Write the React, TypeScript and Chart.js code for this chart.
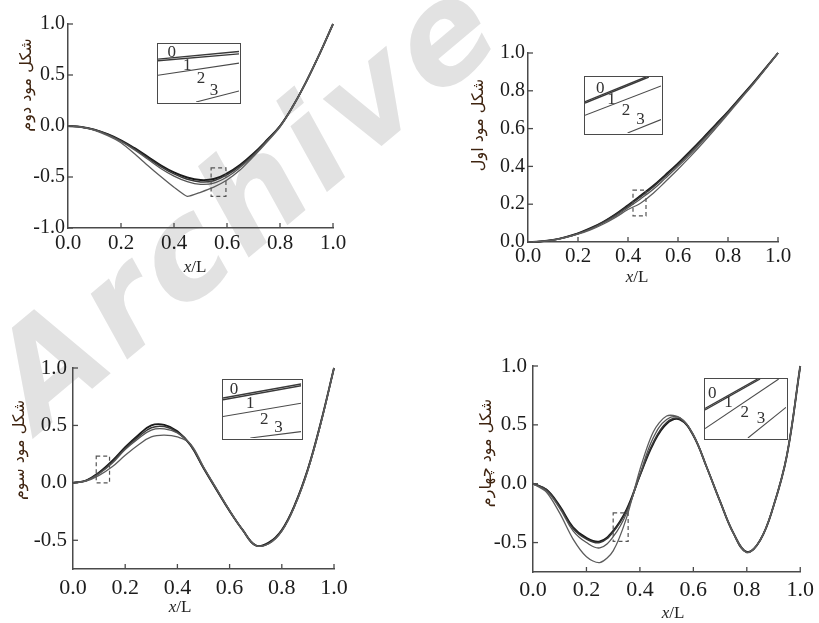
import React, { useEffect, useRef } from "react";
import { Chart, registerables } from "chart.js";

Chart.register(...registerables);

// ---------------- data ----------------
const XS = [0, 0.05, 0.1, 0.15, 0.2, 0.25, 0.3, 0.35, 0.4, 0.45, 0.5, 0.55, 0.6, 0.65, 0.7, 0.75, 0.8, 0.85, 0.9, 0.95, 1];

// first mode (top right)
const mode1c0 = [0, 0.003, 0.011, 0.026, 0.046, 0.073, 0.106, 0.147, 0.195, 0.245, 0.296, 0.355, 0.416, 0.482, 0.55, 0.62, 0.69, 0.765, 0.84, 0.92, 1.0];
const mode1c1 = [0, 0.003, 0.011, 0.025, 0.045, 0.071, 0.104, 0.143, 0.19, 0.239, 0.29, 0.349, 0.41, 0.476, 0.545, 0.615, 0.687, 0.762, 0.838, 0.918, 1.0];
const mode1c2 = [0, 0.003, 0.01, 0.024, 0.043, 0.068, 0.1, 0.137, 0.182, 0.228, 0.278, 0.338, 0.4, 0.466, 0.537, 0.61, 0.683, 0.759, 0.836, 0.917, 1.0];
const mode1c3 = [0, 0.003, 0.01, 0.023, 0.041, 0.064, 0.094, 0.13, 0.172, 0.205, 0.257, 0.32, 0.385, 0.453, 0.525, 0.6, 0.677, 0.755, 0.833, 0.915, 1.0];

// second mode (top left)
const mode2c0 = [0, -0.01, -0.035, -0.08, -0.14, -0.215, -0.3, -0.385, -0.455, -0.505, -0.53, -0.52, -0.465, -0.38, -0.27, -0.14, 0.0, 0.2, 0.44, 0.71, 1.0];
const mode2c1 = [0, -0.01, -0.036, -0.082, -0.145, -0.222, -0.31, -0.397, -0.47, -0.522, -0.548, -0.537, -0.478, -0.39, -0.28, -0.145, 0.0, 0.2, 0.44, 0.71, 1.0];
const mode2c2 = [0, -0.011, -0.038, -0.086, -0.151, -0.232, -0.324, -0.416, -0.491, -0.545, -0.572, -0.56, -0.5, -0.405, -0.29, -0.15, -0.005, 0.2, 0.44, 0.71, 1.0];
const mode2c3 = [0, -0.012, -0.042, -0.095, -0.165, -0.27, -0.385, -0.495, -0.6, -0.69, -0.65, -0.6, -0.53, -0.43, -0.3, -0.16, -0.01, 0.195, 0.44, 0.71, 1.0];

// third mode (bottom left)
const mode3c0 = [0, 0.02, 0.09, 0.19, 0.31, 0.415, 0.5, 0.505, 0.45, 0.33, 0.13, -0.06, -0.245, -0.41, -0.545, -0.52, -0.41, -0.19, 0.12, 0.53, 1.0];
const mode3c1 = [0, 0.02, 0.085, 0.18, 0.3, 0.4, 0.48, 0.49, 0.44, 0.33, 0.13, -0.06, -0.245, -0.41, -0.545, -0.525, -0.415, -0.19, 0.12, 0.53, 1.0];
const mode3c2 = [0, 0.02, 0.08, 0.17, 0.29, 0.385, 0.46, 0.47, 0.435, 0.335, 0.135, -0.055, -0.24, -0.41, -0.545, -0.53, -0.42, -0.2, 0.11, 0.52, 1.0];
const mode3c3 = [0, 0.015, 0.065, 0.14, 0.24, 0.33, 0.4, 0.415, 0.4, 0.34, 0.14, -0.05, -0.24, -0.41, -0.545, -0.53, -0.42, -0.2, 0.11, 0.52, 1.0];

// fourth mode (bottom right)
const mode4c0 = [0, -0.05, -0.19, -0.37, -0.46, -0.49, -0.4, -0.22, 0.07, 0.34, 0.51, 0.545, 0.41, 0.14, -0.15, -0.42, -0.58, -0.48, -0.19, 0.24, 1.0];
const mode4c1 = [0, -0.05, -0.2, -0.38, -0.47, -0.5, -0.41, -0.23, 0.07, 0.35, 0.52, 0.55, 0.41, 0.14, -0.15, -0.42, -0.58, -0.48, -0.19, 0.24, 1.0];
const mode4c2 = [0, -0.06, -0.21, -0.4, -0.5, -0.545, -0.45, -0.25, 0.08, 0.39, 0.545, 0.56, 0.41, 0.14, -0.15, -0.42, -0.585, -0.48, -0.19, 0.24, 1.0];
const mode4c3 = [0, -0.07, -0.25, -0.47, -0.62, -0.67, -0.57, -0.29, 0.12, 0.44, 0.575, 0.56, 0.42, 0.14, -0.15, -0.42, -0.585, -0.48, -0.19, 0.24, 1.0];

// tick values
const X_TICKS = [0, 0.2, 0.4, 0.6, 0.8, 1.0];
const Y_TICKS_M1 = [0, 0.2, 0.4, 0.6, 0.8, 1.0];
const Y_TICKS_M2 = [-1.0, -0.5, 0, 0.5, 1.0];
const Y_TICKS_M3 = [-0.5, 0, 0.5, 1.0];
const Y_TICKS_M4 = [-0.5, 0, 0.5, 1.0];

// zoom windows (dashed boxes) in data units: [x1, x2, y1, y2]
const ZOOM_M1 = [0.42, 0.472, 0.138, 0.275];
const ZOOM_M2 = [0.54, 0.596, -0.69, -0.41];
const ZOOM_M3 = [0.089, 0.14, 0.0, 0.233];
const ZOOM_M4 = [0.3, 0.356, -0.489, -0.248];

// inset segments (normalised inset units) for curves 0..3
const INSET_M1 = [[[0, 0.56], [0.8, 1.0]], [[0, 0.535], [0.84, 1.0]], [[0, 0.315], [1, 0.84]], [[0.56, 0], [1, 0.24]]];
const INSET_M2 = [[[0, 0.74], [1, 0.87]], [[0, 0.71], [1, 0.83]], [[0, 0.46], [1, 0.67]], [[0.47, 0], [1, 0.19]]];
const INSET_M3 = [[[0, 0.69], [1, 0.93]], [[0, 0.66], [1, 0.9]], [[0, 0.37], [1, 0.6]], [[0.35, 0], [1, 0.11]]];
const INSET_M4 = [[[0, 0.5], [0.65, 1.0]], [[0, 0.475], [0.68, 1.0]], [[0, 0.16], [0.91, 1.0]], [[0.53, 0], [1, 0.52]]];
const INSET_LABELS = ["0", "1", "2", "3"];
const INSET_LABEL_POS_M1 = [[0.2, 0.8], [0.35, 0.6], [0.54, 0.4], [0.73, 0.24]];
const INSET_LABEL_POS_M2 = [[0.17, 0.86], [0.36, 0.63], [0.53, 0.4], [0.69, 0.2]];
const INSET_LABEL_POS_M3 = [[0.14, 0.84], [0.35, 0.6], [0.53, 0.31], [0.71, 0.18]];
const INSET_LABEL_POS_M4 = [[0.09, 0.76], [0.29, 0.6], [0.49, 0.44], [0.69, 0.33]];

const Y_TITLES = ["شکل مود اول", "شکل مود دوم", "شکل مود سوم", "شکل مود چهارم"];

// ---------------- styling ----------------
const W = 819;
const H = 623;
const AXIS = "#4a4a4a";
const TICK_FONT = "Liberation Serif";
const CURVE_COLORS = ["#1a1a1a", "#383838", "#555555", "#5c5c5c"];
const CURVE_WIDTHS = [1.9, 1.5, 1.3, 1.3];
const YW = 60;
const XH = 40;

type Panel = {
  series: number[][];
  tensions: number[];
  yMin: number;
  yMax: number;
  yTicks: number[];
  zoom: number[];
  area: { l: number; t: number; r: number; b: number };
  xPad: number;
  yPad: number;
  yTitle: string;
  yTitlePos: [number, number];
  xTitlePos: [number, number];
  fontSize: number;
};

const PANELS: Panel[] = [
  {
    series: [mode2c0, mode2c1, mode2c2, mode2c3], tensions: [0.4, 0.4, 0.4, 0.15],
    yMin: -1, yMax: 1, yTicks: Y_TICKS_M2, zoom: ZOOM_M2,
    area: { l: 68, t: 24, r: 333, b: 228 }, xPad: 3, yPad: 3,
    yTitle: Y_TITLES[1], yTitlePos: [27, 85], xTitlePos: [195, 268], fontSize: 21,
  },
  {
    series: [mode1c0, mode1c1, mode1c2, mode1c3], tensions: [0.4, 0.4, 0.4, 0.4],
    yMin: 0, yMax: 1, yTicks: Y_TICKS_M1, zoom: ZOOM_M1,
    area: { l: 528, t: 53, r: 778, b: 242 }, xPad: 2, yPad: 3,
    yTitle: Y_TITLES[0], yTitlePos: [479, 125], xTitlePos: [637, 278], fontSize: 21,
  },
  {
    series: [mode3c0, mode3c1, mode3c2, mode3c3], tensions: [0.4, 0.4, 0.4, 0.4],
    yMin: -0.75, yMax: 1, yTicks: Y_TICKS_M3, zoom: ZOOM_M3,
    area: { l: 73, t: 368, r: 334, b: 569 }, xPad: 6, yPad: 6,
    yTitle: Y_TITLES[2], yTitlePos: [20, 450], xTitlePos: [180, 608], fontSize: 22,
  },
  {
    series: [mode4c0, mode4c1, mode4c2, mode4c3], tensions: [0.4, 0.4, 0.4, 0.3],
    yMin: -0.75, yMax: 1, yTicks: Y_TICKS_M4, zoom: ZOOM_M4,
    area: { l: 533, t: 366, r: 803, b: 572 }, xPad: 5, yPad: 6,
    yTitle: Y_TITLES[3], yTitlePos: [487, 453], xTitlePos: [673, 614], fontSize: 22,
  },
];

type InsetCfg = { segs: number[][][]; labels: number[][]; box: { l: number; t: number; w: number; h: number } };
const INSETS: InsetCfg[] = [
  { segs: INSET_M2, labels: INSET_LABEL_POS_M2, box: { l: 157, t: 43, w: 84, h: 61 } },
  { segs: INSET_M1, labels: INSET_LABEL_POS_M1, box: { l: 584, t: 76, w: 79, h: 59 } },
  { segs: INSET_M3, labels: INSET_LABEL_POS_M3, box: { l: 222, t: 379, w: 81, h: 61 } },
  { segs: INSET_M4, labels: INSET_LABEL_POS_M4, box: { l: 704, t: 378, w: 84, h: 62 } },
];

// ---------------- plugins ----------------
const decoPlugin = {
  id: "deco",
  afterDraw(chart: any, _args: any, opts: any) {
    const { ctx, chartArea } = chart;
    const x = chart.scales.x;
    const y = chart.scales.y;
    ctx.save();
    ctx.strokeStyle = AXIS;
    ctx.lineWidth = 1.3;
    x.ticks.forEach((t: any) => {
      if (t.value === 0) return;
      const px = x.getPixelForValue(t.value);
      ctx.beginPath();
      ctx.moveTo(px, chartArea.bottom);
      ctx.lineTo(px, chartArea.bottom - 5);
      ctx.stroke();
    });
    y.ticks.forEach((t: any) => {
      const py = y.getPixelForValue(t.value);
      ctx.beginPath();
      ctx.moveTo(chartArea.left, py);
      ctx.lineTo(chartArea.left + 5, py);
      ctx.stroke();
    });
    // dashed zoom window
    const z = opts.zoom;
    const x1 = x.getPixelForValue(z[0]);
    const x2 = x.getPixelForValue(z[1]);
    const y1 = y.getPixelForValue(z[2]);
    const y2 = y.getPixelForValue(z[3]);
    ctx.setLineDash([4, 3]);
    ctx.lineWidth = 1.2;
    ctx.strokeStyle = "#555";
    ctx.strokeRect(x1, Math.min(y1, y2), x2 - x1, Math.abs(y2 - y1));
    ctx.setLineDash([]);
    // y title (rotated)
    ctx.save();
    ctx.translate(opts.yTitlePos[0], opts.yTitlePos[1]);
    ctx.rotate(-Math.PI / 2);
    ctx.font = "16px 'DejaVu Sans'";
    ctx.fillStyle = "#3f2410";
    ctx.textAlign = "center";
    ctx.textBaseline = "middle";
    ctx.fillText(opts.yTitle, 0, 0);
    ctx.restore();
    // x title: italic x + /L
    ctx.fillStyle = "#222";
    ctx.textBaseline = "middle";
    ctx.textAlign = "left";
    const fi = "italic 17px 'Liberation Serif'";
    const fn = "17px 'Liberation Serif'";
    ctx.font = fi;
    const w1 = ctx.measureText("x").width;
    ctx.font = fn;
    const w2 = ctx.measureText("/L").width;
    const sx = opts.xTitlePos[0] - (w1 + w2) / 2;
    ctx.font = fi;
    ctx.fillText("x", sx, opts.xTitlePos[1]);
    ctx.font = fn;
    ctx.fillText("/L", sx + w1, opts.xTitlePos[1]);
    ctx.restore();
  },
};

const insetLabelPlugin = {
  id: "insetLabels",
  afterDraw(chart: any, _args: any, opts: any) {
    const { ctx } = chart;
    const x = chart.scales.x;
    const y = chart.scales.y;
    ctx.save();
    ctx.font = "17px 'Liberation Serif'";
    ctx.fillStyle = "#333";
    ctx.textAlign = "center";
    ctx.textBaseline = "middle";
    opts.pos.forEach((p: number[], i: number) => {
      ctx.fillText(INSET_LABELS[i], x.getPixelForValue(p[0]), y.getPixelForValue(p[1]));
    });
    ctx.restore();
  },
};

// ---------------- components ----------------
function ModeChart({ cfg }: { cfg: Panel }) {
  const ref = useRef<HTMLCanvasElement>(null);
  useEffect(() => {
    const datasets = cfg.series
      .map((s, i) => ({
        data: XS.map((xv, k) => ({ x: xv, y: s[k] })),
        borderColor: CURVE_COLORS[i],
        borderWidth: CURVE_WIDTHS[i],
        pointRadius: 0,
        fill: false,
        tension: cfg.tensions[i],
        clip: 4,
      }))
      .reverse();
    const font = { family: TICK_FONT, size: cfg.fontSize };
    const chart = new Chart(ref.current!, {
      type: "line",
      data: { datasets },
      plugins: [decoPlugin],
      options: {
        responsive: false,
        animation: false,
        events: [],
        layout: {
          padding: {
            left: cfg.area.l - YW,
            top: cfg.area.t,
            right: W - cfg.area.r,
            bottom: H - cfg.area.b - XH,
          },
        },
        plugins: {
          legend: { display: false },
          tooltip: { enabled: false },
          deco: { zoom: cfg.zoom, yTitle: cfg.yTitle, yTitlePos: cfg.yTitlePos, xTitlePos: cfg.xTitlePos },
        } as any,
        scales: {
          x: {
            type: "linear",
            min: 0,
            max: 1,
            afterFit: (s: any) => { s.height = XH; },
            afterBuildTicks: (s: any) => { s.ticks = X_TICKS.map((v) => ({ value: v })); },
            grid: { display: false, drawTicks: false },
            border: { display: true, color: AXIS, width: 1.5 },
            ticks: {
              padding: cfg.xPad,
              font,
              color: "#1c1c1c",
              maxRotation: 0,
              autoSkip: false,
              callback: (v: any) => Number(v).toFixed(1),
            },
          },
          y: {
            type: "linear",
            min: cfg.yMin,
            max: cfg.yMax,
            afterFit: (s: any) => { s.width = YW; },
            afterBuildTicks: (s: any) => { s.ticks = cfg.yTicks.map((v) => ({ value: v })); },
            grid: { display: false, drawTicks: false },
            border: { display: true, color: AXIS, width: 1.5 },
            ticks: {
              padding: cfg.yPad,
              font: { family: TICK_FONT, size: cfg.fontSize - 1 },
              color: "#1c1c1c",
              autoSkip: false,
              callback: (v: any) => Number(v).toFixed(1),
            },
          },
        },
      },
    });
    return () => chart.destroy();
  }, [cfg]);
  return <canvas ref={ref} width={W} height={H} style={{ position: "absolute", left: 0, top: 0 }} />;
}

function Inset({ cfg }: { cfg: InsetCfg }) {
  const ref = useRef<HTMLCanvasElement>(null);
  const cw = cfg.box.w - 3;
  const chh = cfg.box.h - 3;
  useEffect(() => {
    const datasets = cfg.segs.map((seg, i) => ({
      data: seg.map((p) => ({ x: p[0], y: p[1] })),
      borderColor: i < 2 ? "#3a3a3a" : "#4a4a4a",
      borderWidth: i < 2 ? 1.4 : 1.1,
      pointRadius: 0,
      fill: false,
    }));
    const chart = new Chart(ref.current!, {
      type: "line",
      data: { datasets },
      plugins: [insetLabelPlugin],
      options: {
        responsive: false,
        animation: false,
        events: [],
        layout: { padding: 0 },
        plugins: {
          legend: { display: false },
          tooltip: { enabled: false },
          insetLabels: { pos: cfg.labels },
        } as any,
        scales: {
          x: { type: "linear", min: 0, max: 1, display: false },
          y: { type: "linear", min: 0, max: 1, display: false },
        },
      },
    });
    return () => chart.destroy();
  }, [cfg]);
  return (
    <div
      style={{
        position: "absolute",
        left: cfg.box.l,
        top: cfg.box.t,
        width: cfg.box.w,
        height: cfg.box.h,
        boxSizing: "border-box",
        border: "1.5px solid #4a4a4a",
        background: "#fff",
        overflow: "hidden",
      }}
    >
      <canvas ref={ref} width={cw} height={chh} style={{ display: "block" }} />
    </div>
  );
}

export default function App() {
  return (
    <div
      style={{
        position: "absolute",
        left: 0,
        top: 0,
        width: W,
        height: H,
        overflow: "hidden",
        background: "#fff",
      }}
    >
      <div
        style={{
          position: "absolute",
          left: 245,
          top: 200,
          transform: "translate(-50%, -50%) rotate(-40deg)",
          fontFamily: "'DejaVu Sans'",
          fontStyle: "italic",
          fontWeight: "bold",
          fontSize: 135,
          letterSpacing: 6,
          color: "#e2e2e2",
          whiteSpace: "nowrap",
          userSelect: "none",
        }}
      >
        Archive
      </div>
      {PANELS.map((p, i) => (
        <ModeChart key={"c" + i} cfg={p} />
      ))}
      {INSETS.map((c, i) => (
        <Inset key={"i" + i} cfg={c} />
      ))}
    </div>
  );
}
